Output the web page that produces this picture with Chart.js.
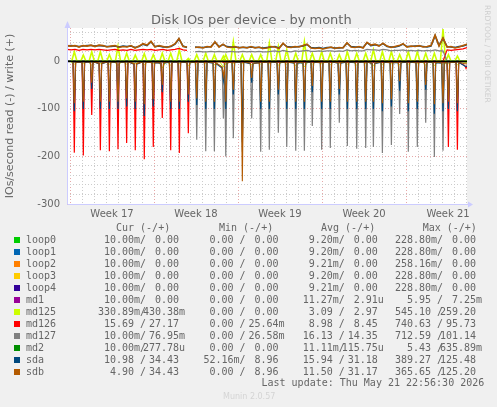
<!DOCTYPE html>
<html>
<head>
<meta charset="utf-8">
<title>Disk IOs per device</title>
<script src="https://cdn.jsdelivr.net/npm/chart.js"></script>
<style>
    html, body { margin: 0; padding: 0; background: #f0f0f0; }
    #page { position: relative; width: 497px; height: 407px; overflow: hidden; }
    canvas { position: absolute; left: 0; top: 0; }
    .txt { position: absolute; white-space: pre; font: 10px/12px "DejaVu Sans Mono", monospace; color: #666666; }
    .swatch { position: absolute; width: 6px; height: 6px; }
</style>
</head>
<body>
<div id="page"><canvas id="chart" width="497" height="407"></canvas></div>
<script>
const weekLabels = ['Week 17', 'Week 18', 'Week 19', 'Week 20', 'Week 21'];
const weekMiddles = [3.5, 10.5, 17.5, 24.5, 31.5];
const weekStarts = [0, 7, 14, 21, 28];
const gridDays = [0, 1, 2, 3, 4, 5, 6, 7, 8, 9, 10, 11, 12, 13, 14, 15, 16, 17, 18, 19, 20, 21, 22, 23, 24, 25, 26, 27, 28, 29, 30, 31, 32, 33];
const gridValues = [-300, -280, -260, -240, -220, -200, -180, -160, -140, -120, -100, -80, -60, -40, -20, 0, 20, 40, 60];
const labelledValues = [-300, -200, -100, 0];

// reads: one dip per entry
const spikeDays = [0.36, 1.11, 1.81, 2.53, 3.28, 4.0, 4.72, 5.44, 6.19, 6.94,
    7.69, 8.39, 9.11, 9.86, 10.56, 11.31, 12.03, 12.78, 12.98, 13.61,
    14.36, 15.14, 15.89, 16.61, 17.36, 18.06, 18.81, 19.53, 20.19, 20.97,
    21.69, 22.44, 23.11, 23.89, 24.64, 25.28, 26.03, 26.78, 27.47, 28.19,
    28.94, 29.64, 30.36, 31.08, 31.53, 32.28, 33.0];

const md126ReadPeak = [-192, -198, -113, -187, -189, -185, -172, -187, -206, -180,
    -119, -187, -193, -151, -2, -2, -2, -2, -2, -2,
    -2, -2, -2, -2, -2, -2, -2, -2, -2, -2,
    -2, -2, -2, -2, -2, -2, -2, -2, -2, -2,
    -2, -2, -2, -3, -180, -186, -15];
const md127ReadPeak = [-2, -2, -2, -2, -2, -2, -2, -2, -2, -2,
    -2, -2, -2, -2, -165, -189, -189, -120, -200, -162,
    -190, -120, -190, -186, -150, -180, -188, -188, -136, -186,
    -182, -129, -178, -184, -182, -180, -193, -176, -111, -190,
    -180, -129, -201, -188, -3, -2, -1];
const sdaReadPeak = [-105, -100, -58, -100, -100, -100, -95, -100, -115, -95,
    -65, -100, -100, -85, -92, -100, -100, -40, -100, -70,
    -170, -45, -100, -100, -70, -100, -100, -100, -65, -100,
    -100, -70, -100, -100, -100, -100, -105, -95, -62, -105,
    -100, -60, -110, -105, -100, -105, -11];
const sdbReadPeak = [-88, -85, -45, -85, -85, -85, -78, -85, -90, -80,
    -50, -85, -85, -70, -78, -85, -85, -32, -85, -60,
    -252, -35, -85, -85, -60, -85, -85, -85, -52, -85,
    -85, -58, -85, -85, -85, -85, -88, -80, -42, -88,
    -85, -50, -90, -88, -85, -88, -5];
const md125ReadPeak = [-6, -5, -8, -5, -6, -9, -6, -5, -7, -5,
    -14, -8, -5, -9, -6, -5, -7, -12, -6, -5,
    -5, -7, -6, -5, -8, -6, -9, -12, -6, -5,
    -7, -5, -6, -8, -5, -9, -6, -5, -7, -6,
    -5, -8, -9, -6, -5, -7, -3];

const md126ReadLow = [-2, -2, -1, -4, -1, -2, -1, -5, -1, -2,
    -3, -1, -2, -2, -1, -1, -1, -1, -1, -1,
    -1, -1, -1, -1, -1, -1, -1, -1, -1, -1,
    -1, -1, -1, -1, -1, -1, -1, -1, -1, -1,
    -1, -1, -1, -1, -1, -2, -9];
const md127ReadLow = [-1, -1, -1, -1, -1, -1, -1, -1, -1, -1,
    -1, -1, -1, -1, -2, -1, -3, -12, -3, -2,
    -1, -4, -2, -1, -2, -1, -3, -2, -1, -2,
    -1, -3, -1, -2, -1, -3, -1, -2, -2, -1,
    -2, -1, -2, -2, -1, -1, -1];
const sdaReadLow = [-2, -2, -1, -5, -1, -3, -1, -6, -1, -3,
    -4, -2, -1, -3, -2, -2, -4, -14, -3, -2,
    -2, -5, -3, -1, -3, -2, -4, -3, -2, -3,
    -1, -4, -2, -3, -1, -5, -2, -3, -3, -2,
    -3, -1, -3, -4, -2, -2, -10];
const sdbReadLow = [-2, -1, -1, -4, -1, -2, -1, -5, -1, -3,
    -3, -1, -1, -2, -2, -1, -3, -12, -3, -2,
    -1, -4, -3, -1, -2, -2, -3, -2, -1, -3,
    -1, -3, -1, -2, -1, -4, -1, -3, -2, -1,
    -3, -1, -2, -3, -2, -2, -5];

// writes: read every third of a day along the top band
const writeDays = [-0.25, 0.08, 0.42, 0.75, 1.08, 1.42, 1.75, 2.08, 2.42, 2.75,
    3.08, 3.42, 3.75, 4.08, 4.42, 4.75, 5.08, 5.42, 5.75, 6.08,
    6.42, 6.75, 7.08, 7.42, 7.75, 8.08, 8.42, 8.75, 9.08, 9.42,
    9.75, 10.08, 10.42, 10.75, 11.08, 11.42, 11.75, 12.08, 12.42, 12.75,
    13.08, 13.42, 13.75, 14.08, 14.42, 14.75, 15.08, 15.42, 15.75, 16.08,
    16.42, 16.75, 17.08, 17.42, 17.75, 18.08, 18.42, 18.75, 19.08, 19.42,
    19.75, 20.08, 20.42, 20.75, 21.08, 21.42, 21.75, 22.08, 22.42, 22.75,
    23.08, 23.42, 23.75, 24.08, 24.42, 24.75, 25.08, 25.42, 25.75, 26.08,
    26.42, 26.75, 27.08, 27.42, 27.75, 28.08, 28.42, 28.75, 29.08, 29.42,
    29.75, 30.08, 30.42, 30.75, 31.08, 31.42, 31.75, 32.08, 32.42, 32.75, 33.08];

const sdbWrite = [33, 32, 33, 30, 33, 32, 34, 31, 34, 33,
    30, 32, 33, 29, 31, 30, 33, 28, 32, 37,
    34, 42, 30, 33, 31, 29, 32, 37, 48, 31,
    30, null, 29, 30, 28, 31, 30, 41, 30, 36,
    30, 29, 31, 28, 30, 28, 31, 28, 30, 27,
    28, 31, 30, 27, 38, 30, 29, 31, 30, 33,
    36, 28, 27, 28, 26, 28, 30, 27, 29, 28,
    39, 30, 29, 31, 28, 40, 34, 36, 32, 38,
    32, 29, 31, 33, 37, 30, 32, 31, 33, 30,
    31, 33, 55, 32, 49, 30, 31, 28, 30, 33, 36];
const sdaWrite = [32, 33, 32, 31, 32, 33, 33, 32, 33, 32,
    31, 31, 32, 30, 32, 31, 32, 29, 31, 36,
    33, 41, 31, 32, 30, 30, 31, 36, 47, 32,
    29, null, 30, 29, 29, 30, 31, 40, 31, 35,
    31, 30, 30, 29, 29, 29, 30, 29, 29, 28,
    29, 30, 31, 28, 37, 31, 30, 30, 31, 32,
    35, 29, 28, 29, 27, 29, 29, 28, 28, 29,
    38, 31, 30, 30, 29, 39, 33, 35, 33, 37,
    31, 30, 30, 32, 36, 31, 31, 32, 32, 31,
    30, 32, 54, 33, 48, 31, 30, 29, 31, 32, 35];
const md126Write = [25, 24, 25, 23, 25, 24, 25, 24, 25, 24,
    23, 24, 25, 23, 24, 23, 25, 23, 24, 25,
    24, 25, 23, 24, 25, 23, 24, 25, 27, 24,
    23, null, 0, 0, 0, 0, 0, 0, 0, 0,
    0, 0, 0, 0, 0, 0, 0, 0, 0, 0,
    0, 0, 0, 0, 0, 0, 0, 0, 0, 0,
    0, 0, 0, 0, 0, 0, 0, 0, 0, 0,
    0, 0, 0, 0, 0, 0, 0, 0, 0, 0,
    0, 0, 0, 0, 0, 0, 0, 0, 0, 0,
    0, 0, 0, 0, 0, 24, 23, 24, 25, 26, 29];
const md127Write = [0, 0, 0, 0, 0, 0, 0, 0, 0, 0,
    0, 0, 0, 0, 0, 0, 0, 0, 0, 0,
    0, 0, 0, 0, 0, 0, 0, 0, 0, 0,
    0, null, 20, 21, 20, 20, 21, 20, 21, 20,
    20, 21, 20, 20, 21, 20, 21, 20, 21, 20,
    20, 21, 22, 20, 23, 21, 20, 22, 21, 22,
    23, 21, 21, 22, 21, 22, 22, 21, 22, 21,
    24, 22, 23, 22, 22, 25, 24, 24, 23, 25,
    24, 22, 23, 23, 24, 22, 23, 22, 23, 22,
    23, 22, 24, 22, 22, 0, 0, 0, 0, 0, 0];
const md125WritePeak = [20, 13, 20, 20, 14, 31, 17, 13, 16, 14,
    17, 17, 24, 6, 14, 17, 14, 11, 14, 41,
    14, 14, 14, 38, 31, 24, 17, 41, 17, 20,
    17, 14, 20, 17, 17, 24, 20, 20, 14, 20,
    20, 17, 17, 68, 14, 11, 1];

const zeroDays = [-0.25, 33.08];
const zeroValues = [0, 0];

const deviceNames = ['loop0', 'loop1', 'loop2', 'loop3', 'loop4', 'md1', 'md125', 'md126', 'md127', 'md2', 'sda', 'sdb'];
const deviceColors = ['#00cc00', '#0066b3', '#ff8000', '#ffcc00', '#330099', '#990099', '#ccff00', '#ff0000', '#808080', '#008f00', '#00487d', '#b35a00'];
const curValues = [['10.00m', '0.00'], ['10.00m', '0.00'], ['10.00m', '0.00'], ['10.00m', '0.00'], ['10.00m', '0.00'], ['10.00m', '0.00'], ['330.89m', '430.38m'], ['15.69', '27.17'], ['10.00m', '76.95m'], ['10.00m', '277.78u'], ['10.98', '34.43'], ['4.90', '34.43']];
const minValues = [['0.00', '0.00'], ['0.00', '0.00'], ['0.00', '0.00'], ['0.00', '0.00'], ['0.00', '0.00'], ['0.00', '0.00'], ['0.00', '0.00'], ['0.00', '25.64m'], ['0.00', '26.58m'], ['0.00', '0.00'], ['52.16m', '8.96'], ['0.00', '8.96']];
const avgValues = [['9.20m', '0.00'], ['9.20m', '0.00'], ['9.21m', '0.00'], ['9.20m', '0.00'], ['9.21m', '0.00'], ['11.27m', '2.91u'], ['3.09', '2.97'], ['8.98', '8.45'], ['16.13', '14.35'], ['11.11m', '115.75u'], ['15.94', '31.18'], ['11.50', '31.17']];
const maxValues = [['228.80m', '0.00'], ['228.80m', '0.00'], ['258.16m', '0.00'], ['228.80m', '0.00'], ['228.80m', '0.00'], ['5.95', '7.25m'], ['545.10', '259.20'], ['740.63', '95.73'], ['712.59', '101.14'], ['5.43', '635.89m'], ['389.27', '125.48'], ['365.65', '125.20']];

// dip drawn as low / peak / low around each spike day
function spikeLine(peaks, lows, halfWidth) {
    const points = [];
    spikeDays.forEach((day, i) => {
        points.push({ x: day - halfWidth, y: lows[i] });
        points.push({ x: day, y: peaks[i] });
        points.push({ x: day + halfWidth, y: lows[i] });
    });
    return points;
}

function bandLine(values) {
    return values.map((v, i) => ({ x: writeDays[i], y: v }));
}

function flatLine() {
    return zeroDays.map((d, i) => ({ x: d, y: zeroValues[i] }));
}

const md125WriteLow = md125WritePeak.map(() => 0);
const md125ReadLow = md125ReadPeak.map(() => -1);

const seriesByDevice = {
    md125: [spikeLine(md125ReadPeak, md125ReadLow, 0.3), spikeLine(md125WritePeak, md125WriteLow, 0.22)],
    md126: [spikeLine(md126ReadPeak, md126ReadLow, 0.1), bandLine(md126Write)],
    md127: [spikeLine(md127ReadPeak, md127ReadLow, 0.1), bandLine(md127Write)],
    sda: [spikeLine(sdaReadPeak, sdaReadLow, 0.11), bandLine(sdaWrite)],
    sdb: [spikeLine(sdbReadPeak, sdbReadLow, 0.11), bandLine(sdbWrite)]
};

// [read, write]
const lineWidths = { md125: [1, 1.6], md126: [1.2, 1.2], md127: [1.2, 1.2], sda: [1.2, 1.5], sdb: [1.1, 1.6] };

const datasets = [];
deviceNames.forEach((name, i) => {
    const lines = seriesByDevice[name] || [flatLine(), flatLine()];
    lines.forEach((data, k) => {
        datasets.push({
            label: name + (k ? ' write' : ' read'),
            data,
            borderColor: deviceColors[i],
            borderWidth: lineWidths[name] ? lineWidths[name][k] : 1,
            pointRadius: 0,
            tension: 0,
            spanGaps: false,
            order: -i
        });
    });
});

const frame = {
    id: 'frame',
    beforeDraw(chart) {
        const { ctx, chartArea: a } = chart;
        ctx.save();
        ctx.fillStyle = '#ffffff';
        ctx.fillRect(a.left, a.top, a.right - a.left, a.bottom - a.top);
        ctx.restore();
    },
    afterDatasetsDraw(chart) {
        const { ctx, chartArea: a, scales } = chart;
        const zero = Math.round(scales.y.getPixelForValue(0)) + 0.5;
        ctx.save();
        ctx.strokeStyle = '#000000';
        ctx.lineWidth = 1.5;
        ctx.beginPath();
        ctx.moveTo(a.left, zero);
        ctx.lineTo(a.right, zero);
        ctx.stroke();
        // axis lines with the little arrows
        ctx.lineWidth = 1;
        ctx.strokeStyle = ctx.fillStyle = '#ccccff';
        ctx.beginPath();
        ctx.moveTo(a.left + 0.5, a.top - 2);
        ctx.lineTo(a.left + 0.5, a.bottom + 0.5);
        ctx.lineTo(a.right + 3, a.bottom + 0.5);
        ctx.stroke();
        ctx.beginPath();
        ctx.moveTo(a.left + 0.5, a.top - 7);
        ctx.lineTo(a.left - 2.5, a.top);
        ctx.lineTo(a.left + 3.5, a.top);
        ctx.fill();
        ctx.beginPath();
        ctx.moveTo(a.right + 6, a.bottom + 0.5);
        ctx.lineTo(a.right + 1, a.bottom - 2.5);
        ctx.lineTo(a.right + 1, a.bottom + 3.5);
        ctx.fill();
        ctx.restore();
    }
};

new Chart(document.getElementById('chart'), {
    type: 'line',
    data: { datasets },
    plugins: [frame],
    options: {
        responsive: false,
        animation: false,
        layout: { padding: { left: 4, right: 30, top: 28, bottom: 188 } },
        plugins: {
            legend: { display: false },
            tooltip: { enabled: false }
        },
        scales: {
            x: {
                type: 'linear',
                min: -0.25,
                max: 33.08,
                afterBuildTicks(scale) {
                    scale.ticks = [...gridDays, ...weekMiddles].sort((a, b) => a - b).map(value => ({ value }));
                },
                afterFit(scale) { scale.height = 15; },
                grid: {
                    drawTicks: false,
                    color: c => weekMiddles.includes(c.tick.value) ? 'transparent'
                        : weekStarts.includes(c.tick.value) ? '#e6a8a8' : '#cccccc'
                },
                border: { display: false, dash: [1, 2] },
                ticks: {
                    autoSkip: false,
                    maxRotation: 0,
                    padding: 4,
                    color: '#666666',
                    font: { family: 'DejaVu Sans', size: 10 },
                    callback: value => {
                        const i = weekMiddles.indexOf(value);
                        return i >= 0 ? weekLabels[i] : '';
                    }
                }
            },
            y: {
                min: -300,
                max: 70,
                afterBuildTicks(scale) {
                    scale.ticks = gridValues.map(value => ({ value }));
                },
                afterFit(scale) { scale.width = 63; },
                grid: {
                    drawTicks: false,
                    color: c => labelledValues.includes(c.tick.value) ? '#e6a8a8' : '#cccccc'
                },
                border: { display: false, dash: [1, 2] },
                title: {
                    display: true,
                    text: 'IOs/second read (-) / write (+)',
                    color: '#666666',
                    font: { family: 'DejaVu Sans', size: 11 },
                    padding: { top: 0, bottom: 0 }
                },
                ticks: {
                    autoSkip: false,
                    padding: 7,
                    color: '#666666',
                    font: { family: 'DejaVu Sans', size: 10 },
                    callback: value => labelledValues.includes(value) ? String(value) : ''
                }
            }
        }
    }
});

// legend table under the plot
const page = document.getElementById('page');

function place(text, x, y, css) {
    const el = document.createElement('div');
    el.className = 'txt';
    el.textContent = text;
    el.style.left = x + 'px';
    el.style.top = y + 'px';
    if (css) el.style.cssText += css;
    page.appendChild(el);
    return el;
}

function field(value) {
    const m = value.match(/^([\d.]+)(\w?)$/);
    return m[1].padStart(6) + m[2];
}

const columnX = [98, 197.5, 296.7, 395];
const headers = ['Cur (-/+)', 'Min (-/+)', 'Avg (-/+)', 'Max (-/+)'];
const headerX = [116, 219, 321, 422.7];
headers.forEach((h, i) => place(h, headerX[i], 221.5));

deviceNames.forEach((name, r) => {
    const y = 233.5 + r * 12;
    const box = document.createElement('div');
    box.className = 'swatch';
    box.style.left = '14px';
    box.style.top = (y + 3) + 'px';
    box.style.background = deviceColors[r];
    page.appendChild(box);
    place(name, 26, y);
    [curValues, minValues, avgValues, maxValues].forEach((col, c) => {
        place(field(col[r][0]), columnX[c], y);
        place('/', columnX[c] + 42, y);
        place(field(col[r][1]), columnX[c] + 45, y);
    });
});

place('Disk IOs per device - by month', 151, 11, 'font:13px/18px "DejaVu Sans",sans-serif;');
place('Last update: Thu May 21 22:56:30 2026', 261.5, 377);
place('Munin 2.0.57', 223, 390.5, 'font:8px/12px "DejaVu Sans",sans-serif;color:#d4d4d4;');
place('RRDTOOL / TOBI OETIKER', 481, 5, 'font:7.6px/12px "DejaVu Sans",sans-serif;color:#cfcfcf;writing-mode:vertical-rl;');
</script>
</body>
</html>
